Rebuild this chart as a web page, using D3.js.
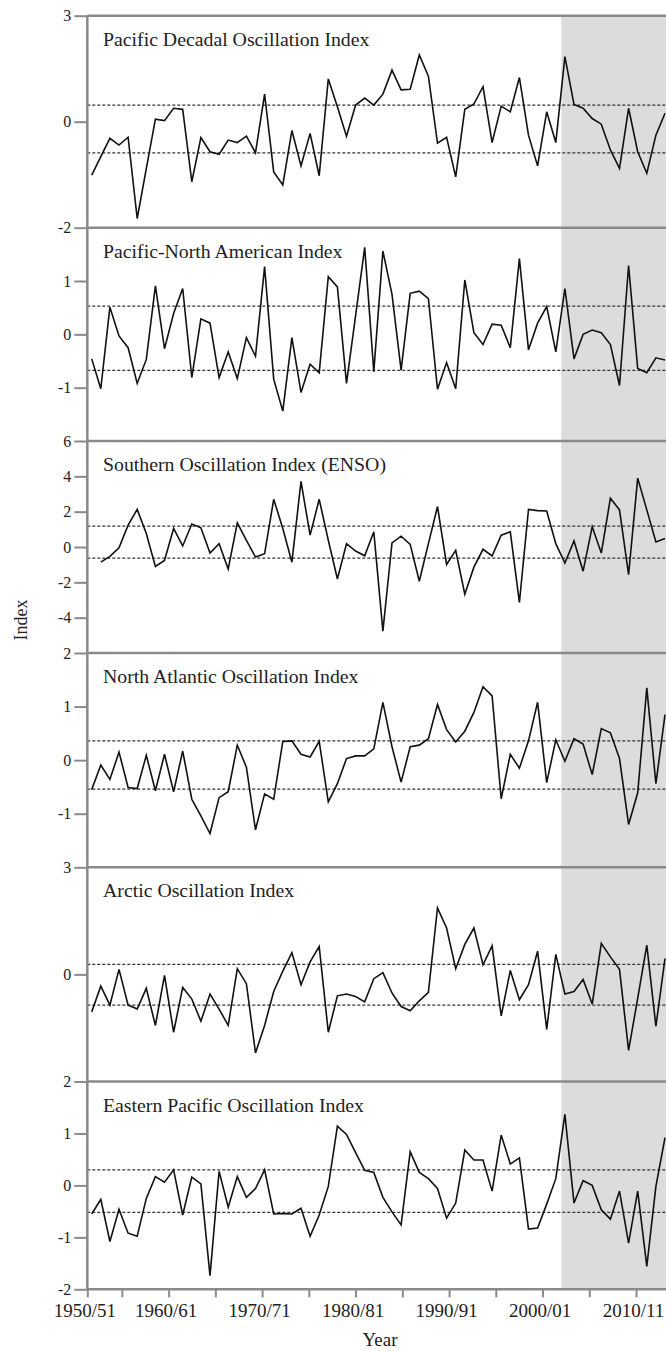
<!DOCTYPE html>
<html>
<head>
<meta charset="utf-8">
<script src="https://cdn.jsdelivr.net/npm/d3@7/dist/d3.min.js"></script>
<style>
  body { margin: 0; background: #fff; }
  svg { display: block; font-family: "Liberation Serif", "Times New Roman", serif; }
</style>
</head>
<body>
<div id="chart"></div>
<script>
// winters 1950/51 ... 2013/14
const years = [1950, 1951, 1952, 1953, 1954, 1955, 1956, 1957, 1958, 1959,
  1960, 1961, 1962, 1963, 1964, 1965, 1966, 1967, 1968, 1969,
  1970, 1971, 1972, 1973, 1974, 1975, 1976, 1977, 1978, 1979,
  1980, 1981, 1982, 1983, 1984, 1985, 1986, 1987, 1988, 1989,
  1990, 1991, 1992, 1993, 1994, 1995, 1996, 1997, 1998, 1999,
  2000, 2001, 2002, 2003, 2004, 2005, 2006, 2007, 2008, 2009,
  2010, 2011, 2012, 2013];

const pdo = [-1.51, -0.99, -0.47, -0.66, -0.44, -2.74, -1.33, 0.07, 0.03, 0.38,
  0.35, -1.70, -0.45, -0.85, -0.92, -0.52, -0.59, -0.41, -0.88, 0.78,
  -1.42, -1.79, -0.25, -1.25, -0.33, -1.53, 1.21, 0.42, -0.41, 0.47,
  0.67, 0.47, 0.78, 1.46, 0.90, 0.92, 1.89, 1.29, -0.61, -0.44,
  -1.56, 0.35, 0.50, 0.99, -0.59, 0.44, 0.28, 1.25, -0.38, -1.25,
  0.28, -0.59, 1.84, 0.49, 0.38, 0.09, -0.07, -0.80, -1.32, 0.38,
  -0.85, -1.46, -0.38, 0.24];

const pna = [-0.46, -1.02, 0.51, -0.03, -0.25, -0.92, -0.47, 0.91, -0.27, 0.39,
  0.86, -0.81, 0.29, 0.21, -0.81, -0.33, -0.83, -0.06, -0.41, 1.27,
  -0.84, -1.44, -0.06, -1.09, -0.56, -0.72, 1.08, 0.89, -0.92, 0.35,
  1.63, -0.70, 1.56, 0.75, -0.67, 0.77, 0.81, 0.67, -1.03, -0.53,
  -1.02, 1.02, 0.03, -0.19, 0.19, 0.17, -0.25, 1.42, -0.29, 0.21,
  0.52, -0.33, 0.86, -0.46, 0.00, 0.08, 0.03, -0.19, -0.96, 1.29,
  -0.64, -0.72, -0.44, -0.48];

// no value for 1950/51
const soi = [null, -0.86, -0.53, -0.04, 1.24, 2.13, 0.76, -1.10, -0.76, 1.05,
  0.06, 1.30, 1.09, -0.34, 0.19, -1.24, 1.37, 0.38, -0.57, -0.38,
  2.70, 1.05, -0.86, 3.71, 0.67, 2.70, 0.38, -1.81, 0.19, -0.23,
  -0.50, 0.86, -4.76, 0.23, 0.61, 0.15, -1.94, 0.19, 2.29, -0.99,
  -0.19, -2.67, -1.14, -0.13, -0.51, 0.67, 0.86, -3.14, 2.13, 2.06,
  2.04, 0.19, -0.91, 0.34, -1.37, 1.14, -0.34, 2.76, 2.10, -1.56,
  3.90, 2.10, 0.29, 0.48];

const nao = [-0.55, -0.09, -0.36, 0.15, -0.51, -0.53, 0.09, -0.57, 0.11, -0.59,
  0.17, -0.73, -1.04, -1.37, -0.70, -0.59, 0.28, -0.13, -1.30, -0.63,
  -0.73, 0.35, 0.36, 0.11, 0.06, 0.35, -0.78, -0.44, 0.03, 0.08,
  0.08, 0.21, 1.08, 0.25, -0.41, 0.25, 0.28, 0.40, 1.04, 0.57,
  0.34, 0.54, 0.89, 1.37, 1.20, -0.72, 0.11, -0.15, 0.36, 1.08,
  -0.42, 0.38, -0.02, 0.40, 0.30, -0.27, 0.59, 0.51, 0.03, -1.20,
  -0.61, 1.35, -0.44, 0.85];

const ao = [-1.05, -0.33, -0.86, 0.14, -0.86, -0.97, -0.39, -1.43, -0.03, -1.62,
  -0.36, -0.69, -1.31, -0.55, -0.97, -1.43, 0.16, -0.26, -2.20, -1.43,
  -0.48, 0.09, 0.61, -0.29, 0.35, 0.78, -1.62, -0.60, -0.55, -0.62,
  -0.77, -0.12, 0.05, -0.52, -0.90, -1.02, -0.74, -0.50, 1.86, 1.30,
  0.16, 0.84, 1.30, 0.27, 0.80, -1.16, 0.11, -0.71, -0.29, 0.65,
  -1.54, 0.56, -0.55, -0.48, -0.14, -0.83, 0.87, 0.49, 0.14, -2.13,
  -0.67, 0.82, -1.45, 0.44];

const epo = [-0.55, -0.27, -1.08, -0.46, -0.92, -0.98, -0.25, 0.17, 0.06, 0.30,
  -0.57, 0.16, 0.03, -1.74, 0.27, -0.42, 0.17, -0.23, -0.06, 0.30,
  -0.55, -0.54, -0.55, -0.44, -0.98, -0.57, -0.02, 1.14, 0.98, 0.63,
  0.29, 0.25, -0.23, -0.51, -0.76, 0.65, 0.25, 0.13, -0.06, -0.63,
  -0.34, 0.68, 0.49, 0.49, -0.11, 0.97, 0.41, 0.53, -0.84, -0.82,
  -0.36, 0.13, 1.37, -0.34, 0.09, 0.00, -0.47, -0.65, -0.11, -1.11,
  -0.11, -1.56, -0.02, 0.92];

const panelNames = [
  "Pacific Decadal Oscillation Index",
  "Pacific-North American Index",
  "Southern Oscillation Index (ENSO)",
  "North Atlantic Oscillation Index",
  "Arctic Oscillation Index",
  "Eastern Pacific Oscillation Index"
];
const panelSeries = [pdo, pna, soi, nao, ao, epo];

// y ranges and the tick labels printed on the left
const yDomains = [[-3, 3], [-2, 2], [-6, 6], [-2, 2], [-3, 3], [-2, 2]];
const yTickValues = [[3, 0], [2, 1, 0, -1], [6, 4, 2, 0, -2, -4], [2, 1, 0, -1], [3, 0], [2, 1, 0, -1, -2]];
const yTickLabels = [["3", "0"], ["-2", "1", "0", "-1"], ["6", "4", "2", "0", "-2", "-4"],
  ["2", "1", "0", "-1"], ["3", "0"], ["2", "1", "0", "-1", "-2"]];

// dashed reference lines (upper / lower)
const upperLine = [0.47, 0.53, 1.18, 0.36, 0.28, 0.30];
const lowerLine = [-0.88, -0.675, -0.63, -0.54, -0.86, -0.52];

const shadeFrom = 2001.6;

const xTickYears = [1950, 1955, 1960, 1965, 1970, 1975, 1980, 1985, 1990, 1995, 2000, 2005, 2010];
const xTickLabels = ["1950/51", "", "1960/61", "", "1970/71", "", "1980/81", "", "1990/91", "", "2000/01", "", "2010/11"];

// layout
const width = 666;
const height = 1351;
const left = 87.3;
const panelEdges = [15.7, 227.7, 441, 653, 867.3, 1081.5, 1289.3];
const axisColor = "#8a8a8a";
const textColor = "#222";

const svg = d3.select("#chart")
  .append("svg")
  .attr("width", width)
  .attr("height", height);

const x = d3.scaleLinear()
  .domain([1950, 2013])
  .range([91.7, 665]);

// tick marks on the printed axis do not sit exactly on the data years
const xAxisScale = d3.scaleLinear()
  .domain([1951.3, 2010])
  .range([left, 636])
  .clamp(true);

// shaded recent period
svg.append("rect")
  .attr("x", x(shadeFrom))
  .attr("y", panelEdges[0])
  .attr("width", width - x(shadeFrom))
  .attr("height", panelEdges[6] - panelEdges[0])
  .attr("fill", "#dcdcdc");

panelSeries.forEach((series, i) => {
  const top = panelEdges[i];
  const bottom = panelEdges[i + 1];
  const y = d3.scaleLinear().domain(yDomains[i]).range([bottom, top]);
  const g = svg.append("g");

  // dashed lines
  [upperLine[i], lowerLine[i]].forEach(v => {
    g.append("line")
      .attr("x1", left)
      .attr("x2", width)
      .attr("y1", y(v))
      .attr("y2", y(v))
      .attr("stroke", "#333")
      .attr("stroke-width", 1.3)
      .attr("stroke-dasharray", "3,2");
  });

  const line = d3.line()
    .defined(d => d[1] !== null)
    .x(d => x(d[0]))
    .y(d => y(d[1]));

  g.append("path")
    .datum(years.map((yr, k) => [yr, series[k]]))
    .attr("fill", "none")
    .attr("stroke", "#111")
    .attr("stroke-width", 1.6)
    .attr("stroke-linejoin", "miter")
    .attr("d", line);

  // y axis ticks
  const ax = g.append("g")
    .attr("transform", `translate(${left},0)`)
    .call(d3.axisLeft(y)
      .tickValues(yTickValues[i])
      .tickFormat((d, k) => yTickLabels[i][k])
      .tickSize(13)
      .tickPadding(3));
  ax.select(".domain").remove();
  ax.selectAll("line").attr("stroke", axisColor).attr("stroke-width", 2);
  ax.selectAll("text")
    .attr("fill", textColor)
    .style("font-size", "16px")
    .style("font-family", "'Liberation Serif', serif");

  // title (the printed lettering is a little wider than the font)
  g.append("text")
    .attr("transform", `translate(103,${top + 30}) scale(1.1,1)`)
    .attr("fill", textColor)
    .style("font-size", "18px")
    .text(panelNames[i]);
});

// panel borders
panelEdges.forEach(e => {
  svg.append("line")
    .attr("x1", left)
    .attr("x2", width)
    .attr("y1", e)
    .attr("y2", e)
    .attr("stroke", axisColor)
    .attr("stroke-width", 2.5);
});

svg.append("line")
  .attr("x1", left)
  .attr("x2", left)
  .attr("y1", panelEdges[0])
  .attr("y2", panelEdges[6])
  .attr("stroke", axisColor)
  .attr("stroke-width", 2.5);

// x axis
const xa = svg.append("g")
  .attr("transform", `translate(0,${panelEdges[6]})`)
  .call(d3.axisBottom(xAxisScale)
    .tickValues(xTickYears)
    .tickFormat((d, k) => xTickLabels[k])
    .tickSize(8)
    .tickPadding(6));
xa.select(".domain").remove();
xa.selectAll("line").attr("stroke", axisColor).attr("stroke-width", 2);
xa.selectAll("text")
  .attr("fill", textColor)
  .attr("dx", -3)
  .style("font-size", "19px")
  .style("font-family", "'Liberation Serif', serif");

svg.append("text")
  .attr("x", 380)
  .attr("y", 1346)
  .attr("text-anchor", "middle")
  .attr("fill", textColor)
  .style("font-size", "19px")
  .text("Year");

svg.append("text")
  .attr("transform", "rotate(-90)")
  .attr("x", -620)
  .attr("y", 27)
  .attr("text-anchor", "middle")
  .attr("fill", textColor)
  .style("font-size", "18px")
  .text("Index");
</script>
</body>
</html>
